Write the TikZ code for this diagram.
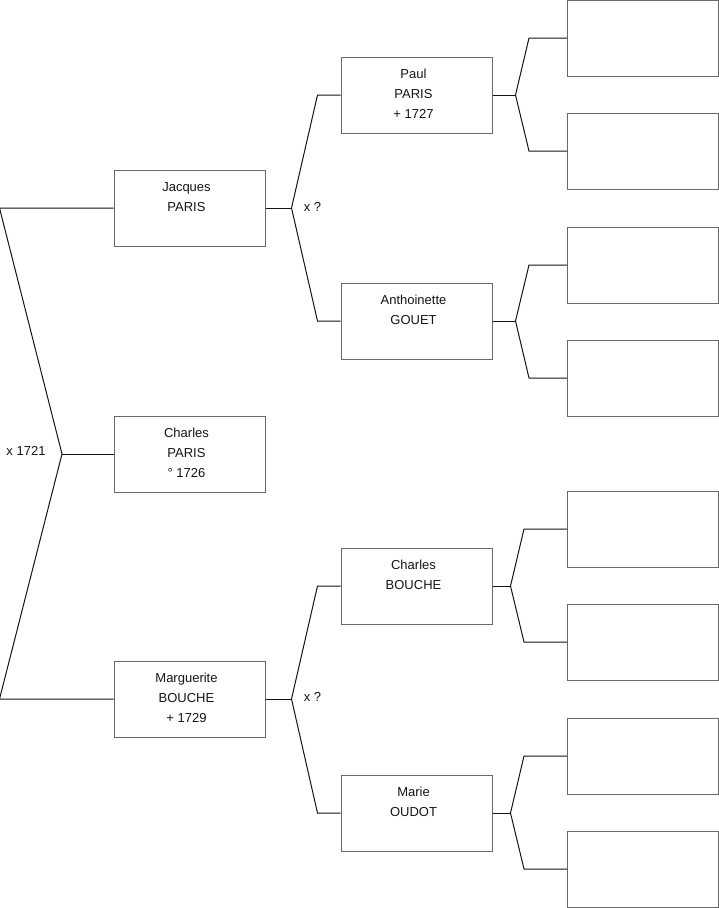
\documentclass[tikz,border=0pt]{standalone}
\usepackage{fontspec}
\setmainfont{Liberation Sans}
\usetikzlibrary{positioning,calc}
\definecolor{boxgray}{RGB}{105,105,105}
\definecolor{inkgray}{RGB}{20,20,20}
\newcommand{\boxtext}[1]{\parbox[c][76pt][t]{151pt}{\centering\rightskip=6pt plus 1fil\rule{0pt}{21pt}#1}}
\tikzset{personbox/.style={draw=boxgray,line width=1pt,minimum width=151pt,minimum height=76pt,inner sep=0pt,text=inkgray},
         link/.style={draw=inkgray,line width=1pt},
         note/.style={inner sep=0pt,text=inkgray}
}

\begin{document}
\begin{tikzpicture}[x=1pt,y=-1pt,font=\fontsize{13}{20}\selectfont]
\useasboundingbox (0,0) rectangle (719,908);

% first generation
\node[personbox] (charlesp) at (189.5,454) {\boxtext{Charles\\PARIS\\° 1726}};
\node[personbox] (jacques) at (189.5,208) {\boxtext{Jacques\\PARIS}};
\node[personbox] (marguerite) at (189.5,699) {\boxtext{Marguerite\\BOUCHE\\+ 1729}};

% grand parents
\node[personbox] (paul) at (416.5,95) {\boxtext{Paul\\PARIS\\+ 1727}};
\node[personbox] (anthoinette) at (416.5,321) {\boxtext{Anthoinette\\GOUET}};
\node[personbox] (charlesb) at (416.5,586) {\boxtext{Charles\\BOUCHE}};
\node[personbox] (marie) at (416.5,813) {\boxtext{Marie\\OUDOT}};

% empty boxes
\node[personbox] (pa) at (643,38) {};
\node[personbox] (pb) at (643,151) {};
\node[personbox] (pc) at (643,265) {};
\node[personbox] (pd) at (643,378) {};
\node[personbox] (pe) at (643,529) {};
\node[personbox] (pf) at (643,642) {};
\node[personbox] (pg) at (643,756) {};
\node[personbox] (ph) at (643,869) {};

% marriages
\coordinate (forkc) at (62,454);
\node[note] (wedc) at (26,451) {x 1721};
\node[note] (wedj) at (312.5,207) {x ?};
\node[note] (wedm) at (312.5,697) {x ?};

\draw[link] (charlesp.west) -- (forkc);
\draw[link] (jacques.west) -- ++(-114,0) -- (forkc) -- ($(marguerite.west)+(-114,0)$) -- (marguerite.west);

\draw[link] (jacques.east) -- ++(26,0) coordinate (forkj);
\draw[link] (paul.west) -- ++(-23,0) -- (forkj) -- ($(anthoinette.west)+(-23,0)$) -- (anthoinette.west);
\draw[link] (marguerite.east) -- ++(26,0) coordinate (forkm);
\draw[link] (charlesb.west) -- ++(-23,0) -- (forkm) -- ($(marie.west)+(-23,0)$) -- (marie.west);

\draw[link] (paul.east) -- ++(23,0) coordinate (forkp);
\draw[link] (pa.west) -- ++(-38,0) -- (forkp) -- ($(pb.west)+(-38,0)$) -- (pb.west);
\draw[link] (anthoinette.east) -- ++(23,0) coordinate (forka);
\draw[link] (pc.west) -- ++(-38,0) -- (forka) -- ($(pd.west)+(-38,0)$) -- (pd.west);
\draw[link] (charlesb.east) -- ++(18,0) coordinate (forkb);
\draw[link] (pe.west) -- ++(-43,0) -- (forkb) -- ($(pf.west)+(-43,0)$) -- (pf.west);
\draw[link] (marie.east) -- ++(18,0) coordinate (forko);
\draw[link] (pg.west) -- ++(-43,0) -- (forko) -- ($(ph.west)+(-43,0)$) -- (ph.west);

\end{tikzpicture}
\end{document}
